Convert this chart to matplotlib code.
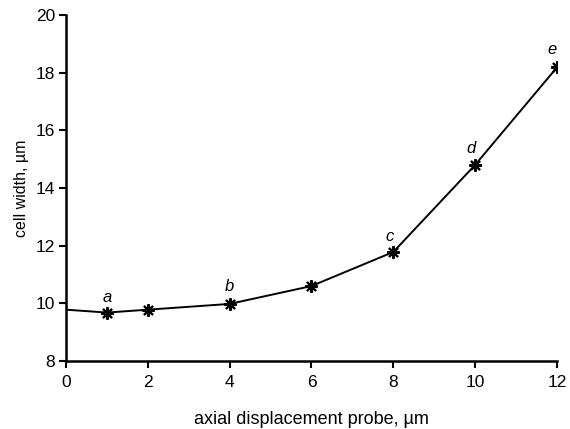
import matplotlib
matplotlib.use("Agg")
import matplotlib.pyplot as plt

plt.rcParams['font.family'] = ['Liberation Sans', 'DejaVu Sans']

line_x = [0, 1, 2, 4, 6, 8, 10, 12]
line_y = [9.78, 9.68, 9.78, 9.98, 10.6, 11.78, 14.8, 18.18]
marker_x = [1, 2, 4, 6, 8, 10, 12]
marker_y = [9.68, 9.78, 9.98, 10.6, 11.78, 14.8, 18.18]
labels = ['a', 'b', 'c', 'd', 'e']
label_x = [1, 4, 8, 10, 12]
label_y = [9.68, 9.98, 11.78, 14.8, 18.18]
# offsets in pixels (dx, dy)
label_offsets_px = [(0, 15), (0, 17), (-4, 16), (-4, 16), (-5, 18)]

fig = plt.figure(figsize=(5.7, 4.29), dpi=100)
ax = fig.add_axes([0.1158, 0.1585, 0.8612, 0.8065])

ax.plot(line_x, line_y, color='black', lw=1.4, zorder=2)
ax.plot(marker_x, marker_y, linestyle='none', marker=(8, 2, 0), markersize=9,
        markeredgewidth=1.5, color='black', zorder=3)

for lab, lx, ly, off in zip(labels, label_x, label_y, label_offsets_px):
    ax.annotate(lab, (lx, ly), xytext=(off[0] * 0.72, off[1] * 0.72),
                textcoords='offset points',
                ha='center', va='center', fontsize=12, style='italic')

ax.set_xlim(0, 12)
ax.set_ylim(8, 20)
ax.set_xticks([0, 2, 4, 6, 8, 10, 12])
ax.set_yticks([8, 10, 12, 14, 16, 18, 20])
ax.spines['top'].set_visible(False)
ax.spines['right'].set_visible(False)
for s in ['left', 'bottom']:
    ax.spines[s].set_linewidth(1.8)
ax.tick_params(direction='out', length=5, width=1.5, labelsize=12.5)
ax.tick_params(axis='x', pad=5)
ax.tick_params(axis='y', pad=3)
ax.set_xlabel('axial displacement probe, µm', fontsize=13, labelpad=15)
ax.set_ylabel('cell width, µm', fontsize=11.5, labelpad=5)

fig.savefig('out.png', dpi=100)
